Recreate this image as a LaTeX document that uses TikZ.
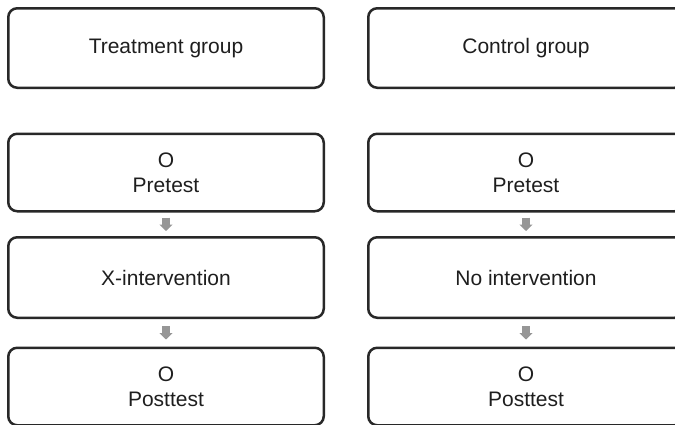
\documentclass[tikz,border=0pt]{standalone}
\usepackage{fontspec}
\setmainfont{Liberation Sans}
\usetikzlibrary{arrows.meta}
\definecolor{boxline}{RGB}{40,40,40}
\definecolor{boxtext}{RGB}{30,30,30}
\definecolor{flowgray}{RGB}{150,150,150}
\begin{document}
\begin{tikzpicture}[x=1pt,y=-1pt,
  stage/.style={draw=boxline, line width=2.5pt, rounded corners=9pt,
    minimum width=315.5pt, align=center, text=boxtext, inner sep=0pt,
    font=\fontsize{21}{25}\selectfont},
  hdr/.style={stage, minimum height=79.5pt},
  row/.style={stage, minimum height=77.5pt},
  flow/.style={draw=flowgray, line width=8pt,
    -{Triangle[width=13pt,length=6.5pt]},
    shorten <=5pt, shorten >=5pt}]
\useasboundingbox (0,0) rectangle (675,424);
\clip (0,0) rectangle (675,424);

% group headers
\node[hdr] (tg) at (166,48) {Treatment group};
\node[hdr] (cg) at (526,48) {Control group};

% treatment column
\node[row] (tpre)  at (166,172.5) {O\\Pretest};
\node[row, minimum height=80.5pt] (tint)  at (166,277.5) {X-intervention};
\node[row] (tpost) at (166,386.5) {O\\Posttest};

% control column
\node[row] (cpre)  at (526,172.5) {O\\Pretest};
\node[row, minimum height=80.5pt] (cint)  at (526,277.5) {No intervention};
\node[row] (cpost) at (526,386.5) {O\\Posttest};

% flow arrows
\draw[flow] (tpre.south) -- (tint.north);
\draw[flow, shorten <=7pt, shorten >=7pt] (tint.south) -- (tpost.north);
\draw[flow] (cpre.south) -- (cint.north);
\draw[flow, shorten <=7pt, shorten >=7pt] (cint.south) -- (cpost.north);
\end{tikzpicture}
\end{document}
